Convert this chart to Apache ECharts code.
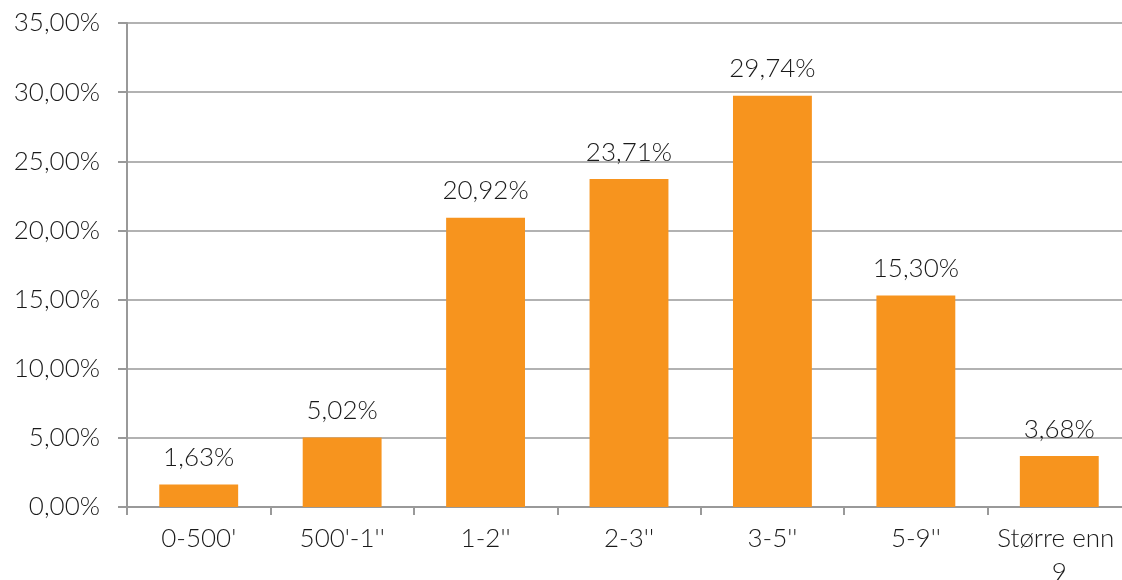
<!DOCTYPE html>
<html>
<head>
<meta charset="utf-8">
<script src="https://cdn.jsdelivr.net/npm/echarts@6/dist/echarts.min.js"></script>
<style>html,body{margin:0;padding:0;background:#fff;}#c{width:1122px;height:580px;}</style>
</head>
<body>
<div id="c"></div>
<script>
const categories = ["0-500'", "500'-1''", "1-2''", "2-3''", "3-5''", "5-9''", "Større enn 9"];
const values = [1.63, 5.02, 20.92, 23.71, 29.74, 15.30, 3.68];
const yMin = 0, yMax = 35, yStep = 5;

function pct(v) { return v.toFixed(2).replace('.', ',') + '%'; }

const FONT = 'Lato';
const chart = echarts.init(document.getElementById('c'), null, {renderer: 'canvas'});
chart.setOption({
  animation: false,
  backgroundColor: '#ffffff',
  grid: {left: 127, right: -9, top: 23, bottom: 73, containLabel: false, outerBoundsMode: 'none'},
  xAxis: {
    type: 'category',
    data: categories,
    axisLine: {lineStyle: {color: '#999999', width: 2}},
    axisTick: {show: true, length: 8, lineStyle: {color: '#999999', width: 2}},
    axisLabel: {
      color: '#1a1a1a', fontFamily: FONT, fontSize: 26, fontWeight: 300, margin: 15,
      width: 140, overflow: 'break', lineHeight: 34, interval: 0
    }
  },
  yAxis: {
    type: 'value', min: yMin, max: yMax, interval: yStep,
    axisLine: {show: true, lineStyle: {color: '#999999', width: 2}},
    axisTick: {show: true, length: 9, lineStyle: {color: '#999999', width: 2}},
    splitLine: {show: true, lineStyle: {color: '#999999', width: 1.5}},
    axisLabel: {color: '#1a1a1a', fontFamily: FONT, fontSize: 26, fontWeight: 300, margin: 27, formatter: pct}
  },
  series: [{
    type: 'bar',
    data: values,
    barCategoryGap: '45%',
    itemStyle: {color: '#F7941E'},
    label: {
      show: true, position: 'top', distance: 14,
      color: '#1a1a1a', fontFamily: FONT, fontSize: 26, fontWeight: 300,
      formatter: p => pct(p.value)
    }
  }]
});
</script>
</body>
</html>
